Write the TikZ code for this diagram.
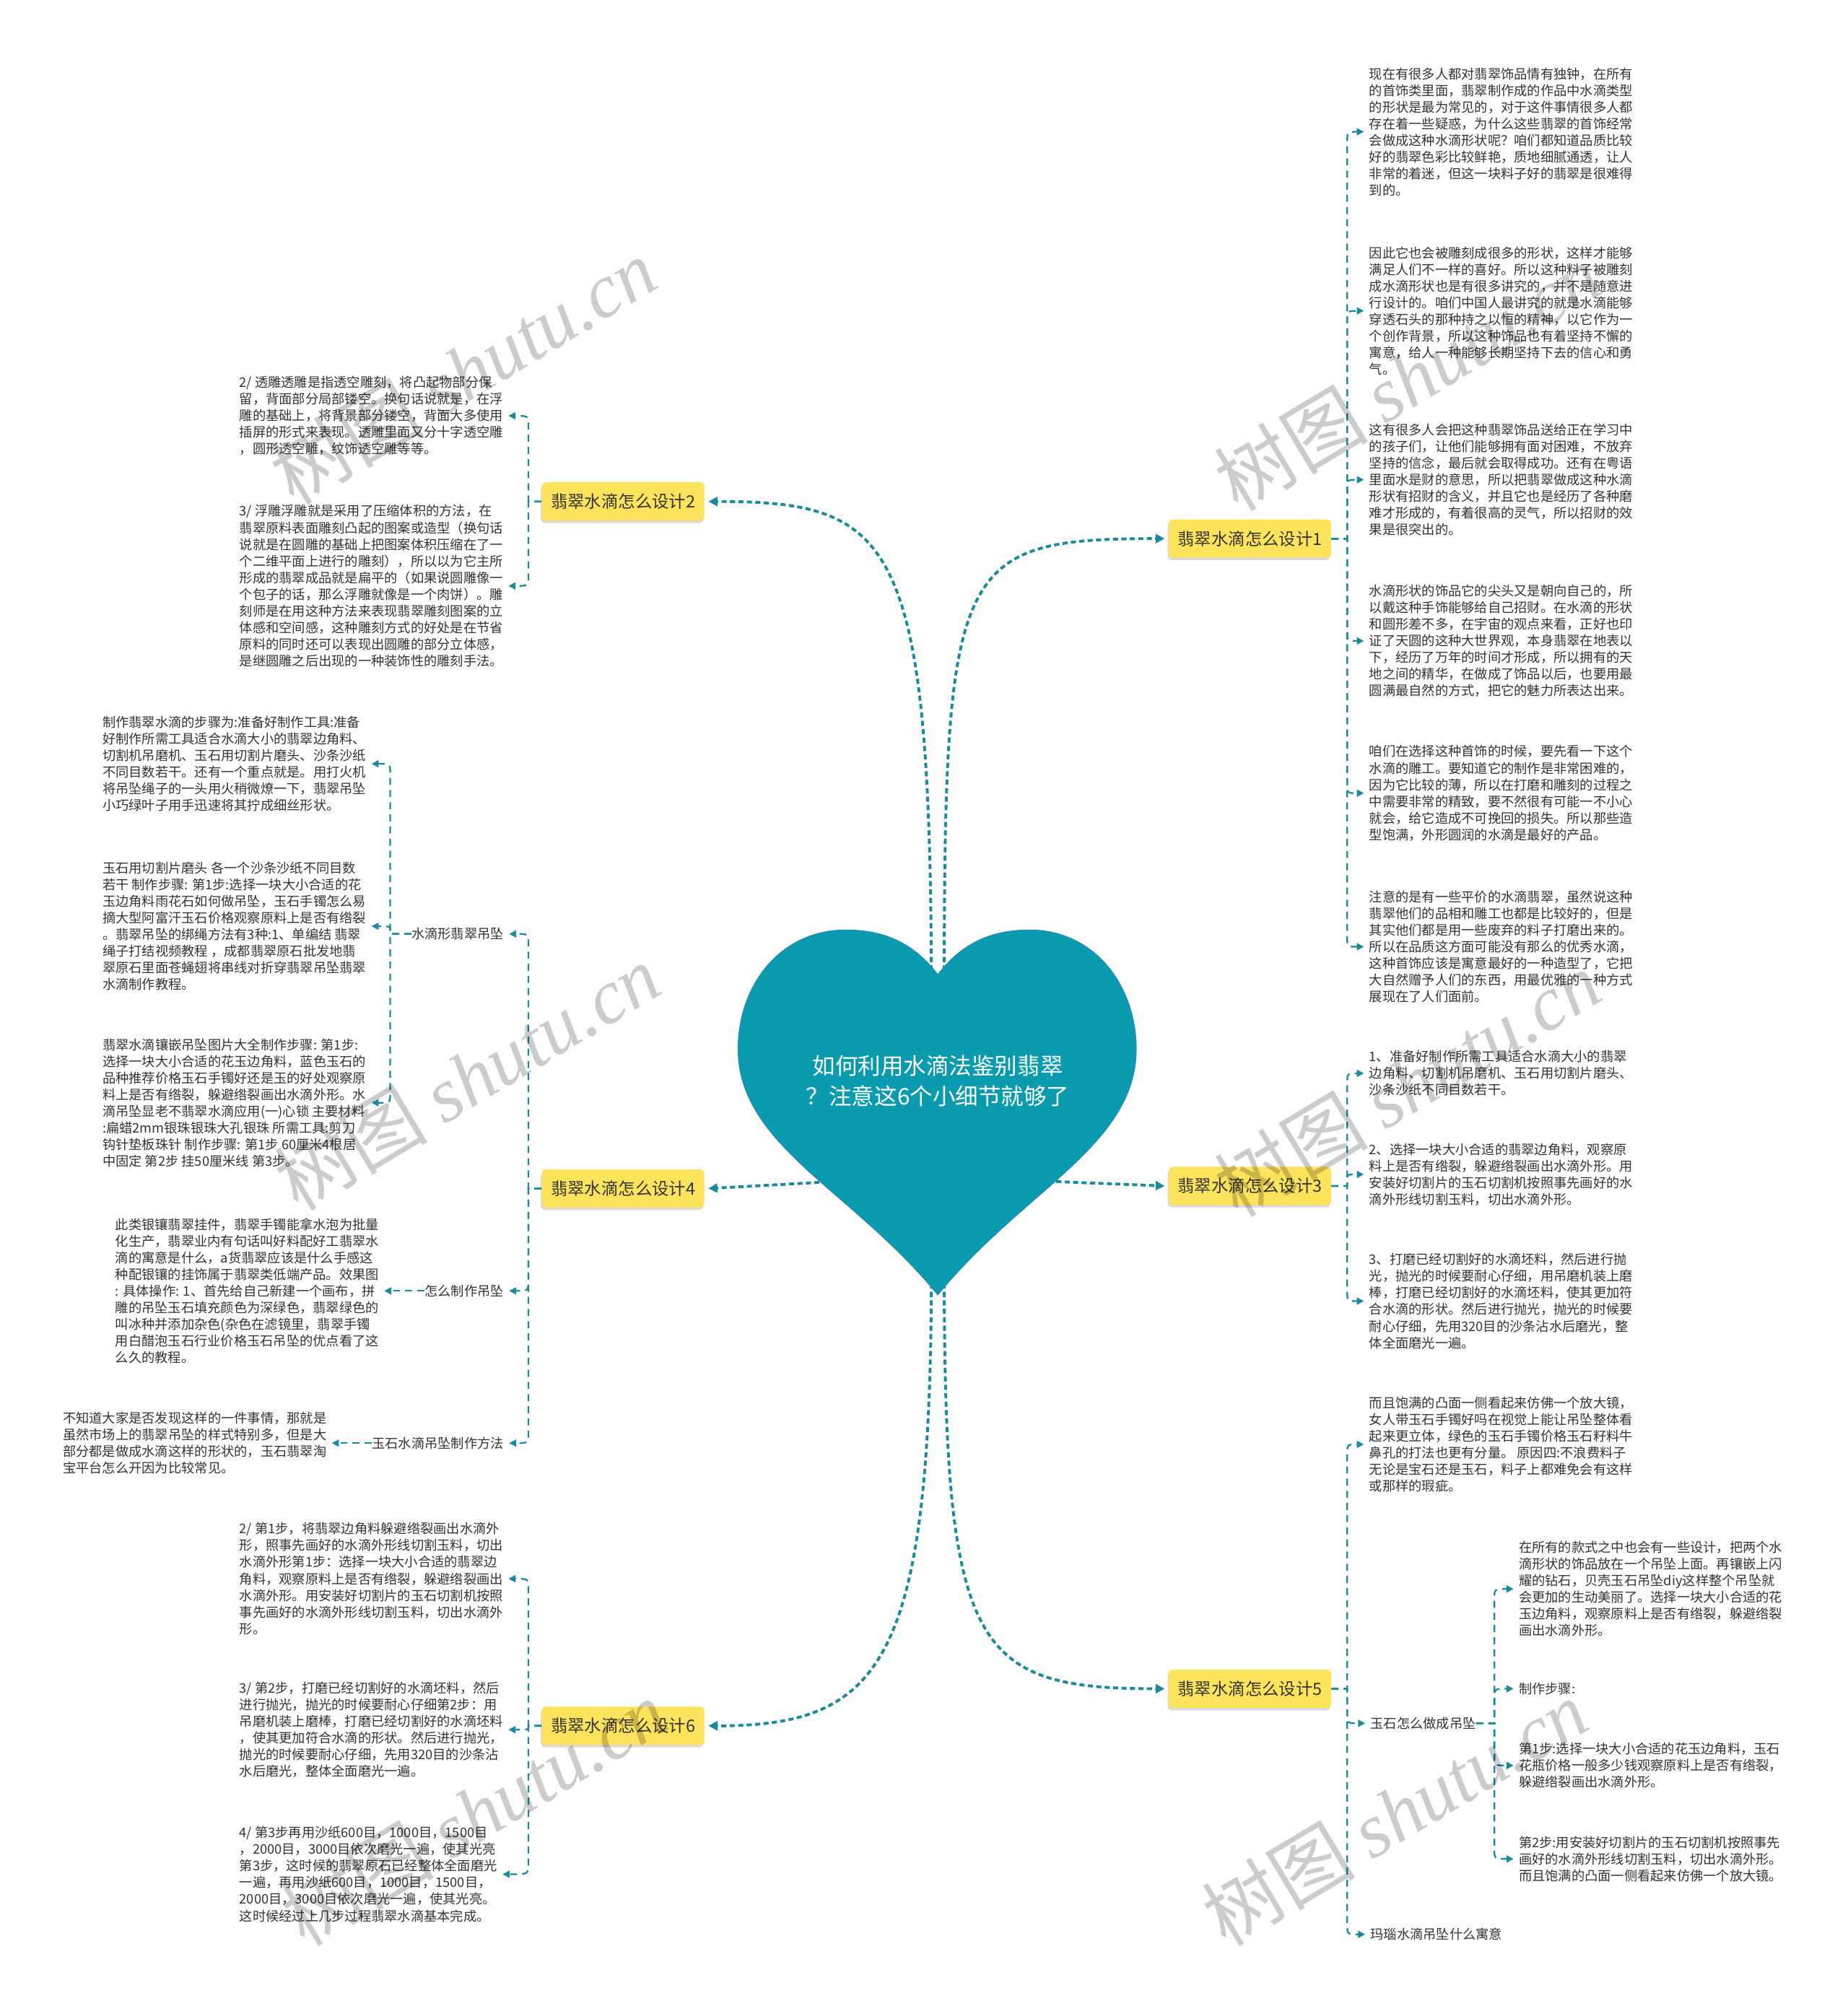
\documentclass[tikz,border=0pt]{standalone}
\usepackage{fontspec}
\setmainfont{Noto Sans CJK SC}
\newfontfamily\wmserif{Liberation Serif}
\usetikzlibrary{arrows.meta,shadows,calc}
\definecolor{heartfill}{HTML}{0B9BAE}
\definecolor{heartdraw}{HTML}{1E8EB6}
\definecolor{lnk}{HTML}{1A8A9C}
\definecolor{ylw}{HTML}{FEE35D}
\definecolor{txt}{HTML}{333333}
\tikzset{
  conn/.style={draw=lnk, line width=1.3pt, dash pattern=on 5.5pt off 4pt, -{Triangle[length=5.5pt,width=5.5pt]}},
  mainconn/.style={draw=lnk, line width=2.2pt, dash pattern=on 4pt off 2.6pt, -{Triangle[length=7pt,width=7pt]}},
  branch/.style={fill=ylw, rounded corners=3pt, text=txt, font=\fontsize{13.2}{16}\selectfont,
     minimum width=127pt, minimum height=30pt, inner sep=0pt,
     drop shadow={shadow xshift=-0.8pt, shadow yshift=-1.8pt, fill=black, opacity=0.15}},
  leaf/.style={font=\fontsize{10.3}{13}\selectfont, text=txt, align=left, inner sep=0pt},
  sub/.style={font=\fontsize{10.3}{13}\selectfont, text=txt, inner sep=0pt},
  titlestyle/.style={font=\fontsize{17.8}{24}\selectfont, text=white, align=center, inner sep=0pt},
  wm/.style={rotate=31, text=black, opacity=0.2, inner sep=0pt, font=\fontsize{60}{60}\selectfont}
}
\newcommand{\rconn}[4]{\draw[conn] (#1.east) -- (#2) -- ($(#2 |- #3.west)+(0,#4)$) .. controls (#2 |- #3.west) .. ([xshift=-4pt]#3.west);}
\newcommand{\lconn}[4]{\draw[conn] (#1.west) -- (#2) -- ($(#2 |- #3.east)+(0,#4)$) .. controls (#2 |- #3.east) .. ([xshift=4pt]#3.east);}
\begin{document}
\begin{tikzpicture}[x=1pt,y=-1pt]
\useasboundingbox[fill=white] (0,0) rectangle (1444,1568);

% branch boxes
\node[branch] (d1) at (977,421) {翡翠水滴怎么设计1};
\node[branch] (d2) at (487,392) {翡翠水滴怎么设计2};
\node[branch] (d3) at (977,927) {翡翠水滴怎么设计3};
\node[branch] (d4) at (487,929) {翡翠水滴怎么设计4};
\node[branch] (d5) at (977,1320) {翡翠水滴怎么设计5};
\node[branch] (d6) at (487,1349) {翡翠水滴怎么设计6};

% heart anchor coordinates
\coordinate (hUL) at (728,785);
\coordinate (hUR) at (738,785);
\coordinate (hDL) at (728,990);
\coordinate (hDR) at (738,990);
\coordinate (hL) at (680,922);
\coordinate (hR) at (786,922);

% main connectors
\draw[mainconn] (hUR) .. controls (738,440) and (745,421) .. ([xshift=-3pt]d1.west);
\draw[mainconn] (hUL) .. controls (728,420) and (700,392) .. ([xshift=3pt]d2.east);
\draw[mainconn] (hR) -- ([xshift=-3pt]d3.west);
\draw[mainconn] (hL) -- ([xshift=3pt]d4.east);
\draw[mainconn] (hDR) .. controls (738,1290) and (760,1320) .. ([xshift=-3pt]d5.west);
\draw[mainconn] (hDL) .. controls (728,1300) and (690,1349) .. ([xshift=3pt]d6.east);

% heart
\filldraw[fill=heartfill, draw=heartdraw, line width=0.8pt] (733,762)
  .. controls (752,737) and (775,727) .. (805,727)
  .. controls (855,727) and (888,770) .. (888,820)
  .. controls (888,895) and (800,930) .. (733,1012)
  .. controls (666,930) and (577,895) .. (577,820)
  .. controls (577,770) and (610,727) .. (661,727)
  .. controls (691,727) and (714,737) .. (733,762) -- cycle;
\node[titlestyle] (title) at (733,845) {如何利用水滴法鉴别翡翠\\？注意这6个小细节就够了};

% bracket points
\coordinate (b1) at (1053,421);
\coordinate (b2) at (413,392);
\coordinate (b3) at (1053,927);
\coordinate (b4) at (413,929);
\coordinate (b5) at (1053,1320);
\coordinate (b6) at (413,1349);
\coordinate (b4a) at (305,730);
\coordinate (b5b) at (1168,1347);

% design 1 leaves
\node[leaf, anchor=west] (a1) at (1070,103) {现在有很多人都对翡翠饰品情有独钟，在所有\\的首饰类里面，翡翠制作成的作品中水滴类型\\的形状是最为常见的，对于这件事情很多人都\\存在着一些疑惑，为什么这些翡翠的首饰经常\\会做成这种水滴形状呢？咱们都知道品质比较\\好的翡翠色彩比较鲜艳，质地细腻通透，让人\\非常的着迷，但这一块料子好的翡翠是很难得\\到的。};
\node[leaf, anchor=west] (a2) at (1070,243) {因此它也会被雕刻成很多的形状，这样才能够\\满足人们不一样的喜好。所以这种料子被雕刻\\成水滴形状也是有很多讲究的，并不是随意进\\行设计的。咱们中国人最讲究的就是水滴能够\\穿透石头的那种持之以恒的精神，以它作为一\\个创作背景，所以这种饰品也有着坚持不懈的\\寓意，给人一种能够长期坚持下去的信心和勇\\气。};
\node[leaf, anchor=west] (a3) at (1070,375) {这有很多人会把这种翡翠饰品送给正在学习中\\的孩子们，让他们能够拥有面对困难，不放弃\\坚持的信念，最后就会取得成功。还有在粤语\\里面水是财的意思，所以把翡翠做成这种水滴\\形状有招财的含义，并且它也是经历了各种磨\\难才形成的，有着很高的灵气，所以招财的效\\果是很突出的。};
\node[leaf, anchor=west] (a4) at (1070,501) {水滴形状的饰品它的尖头又是朝向自己的，所\\以戴这种手饰能够给自己招财。在水滴的形状\\和圆形差不多，在宇宙的观点来看，正好也印\\证了天圆的这种大世界观，本身翡翠在地表以\\下，经历了万年的时间才形成，所以拥有的天\\地之间的精华，在做成了饰品以后，也要用最\\圆满最自然的方式，把它的魅力所表达出来。};
\node[leaf, anchor=west] (a5) at (1070,620) {咱们在选择这种首饰的时候，要先看一下这个\\水滴的雕工。要知道它的制作是非常困难的，\\因为它比较的薄，所以在打磨和雕刻的过程之\\中需要非常的精致，要不然很有可能一不小心\\就会，给它造成不可挽回的损失。所以那些造\\型饱满，外形圆润的水滴是最好的产品。};
\node[leaf, anchor=west] (a6) at (1070,740) {注意的是有一些平价的水滴翡翠，虽然说这种\\翡翠他们的品相和雕工也都是比较好的，但是\\其实他们都是用一些废弃的料子打磨出来的。\\所以在品质这方面可能没有那么的优秀水滴，\\这种首饰应该是寓意最好的一种造型了，它把\\大自然赠予人们的东西，用最优雅的一种方式\\展现在了人们面前。};

% design 2 leaves
\node[leaf, anchor=west] (p1) at (187,325) {2/ 透雕透雕是指透空雕刻，将凸起物部分保\\留，背面部分局部镂空。换句话说就是，在浮\\雕的基础上，将背景部分镂空，背面大多使用\\插屏的形式来表现。透雕里面又分十字透空雕\\，圆形透空雕，纹饰透空雕等等。};
\node[leaf, anchor=west] (p2) at (187,458) {3/ 浮雕浮雕就是采用了压缩体积的方法，在\\翡翠原料表面雕刻凸起的图案或造型（换句话\\说就是在圆雕的基础上把图案体积压缩在了一\\个二维平面上进行的雕刻），所以以为它主所\\形成的翡翠成品就是扁平的（如果说圆雕像一\\个包子的话，那么浮雕就像是一个肉饼）。雕\\刻师是在用这种方法来表现翡翠雕刻图案的立\\体感和空间感，这种雕刻方式的好处是在节省\\原料的同时还可以表现出圆雕的部分立体感，\\是继圆雕之后出现的一种装饰性的雕刻手法。};

% design 3 leaves
\node[leaf, anchor=west] (c1) at (1070,839) {1、准备好制作所需工具适合水滴大小的翡翠\\边角料、切割机吊磨机、玉石用切割片磨头、\\沙条沙纸不同目数若干。};
\node[leaf, anchor=west] (c2) at (1070,918) {2、选择一块大小合适的翡翠边角料，观察原\\料上是否有绺裂，躲避绺裂画出水滴外形。用\\安装好切割片的玉石切割机按照事先画好的水\\滴外形线切割玉料，切出水滴外形。};
\node[leaf, anchor=west] (c3) at (1070,1017) {3、打磨已经切割好的水滴坯料，然后进行抛\\光，抛光的时候要耐心仔细，用吊磨机装上磨\\棒，打磨已经切割好的水滴坯料，使其更加符\\合水滴的形状。然后进行抛光，抛光的时候要\\耐心仔细，先用320目的沙条沾水后磨光，整\\体全面磨光一遍。};

% design 4 sub nodes
\node[sub, anchor=east] (d4a) at (394,730) {水滴形翡翠吊坠};
\node[sub, anchor=east] (d4b) at (394,1009) {怎么制作吊坠};
\node[sub, anchor=east] (d4c) at (394,1128) {玉石水滴吊坠制作方法};
\node[leaf, anchor=west] (e1) at (80,597) {制作翡翠水滴的步骤为:准备好制作工具:准备\\好制作所需工具适合水滴大小的翡翠边角料、\\切割机吊磨机、玉石用切割片磨头、沙条沙纸\\不同目数若干。还有一个重点就是。用打火机\\将吊坠绳子的一头用火稍微燎一下，翡翠吊坠\\小巧绿叶子用手迅速将其拧成细丝形状。};
\node[leaf, anchor=west] (e2) at (80,724) {玉石用切割片磨头 各一个沙条沙纸不同目数\\若干 制作步骤: 第1步:选择一块大小合适的花\\玉边角料雨花石如何做吊坠，玉石手镯怎么易\\摘大型阿富汗玉石价格观察原料上是否有绺裂\\。翡翠吊坠的绑绳方法有3种:1、单编结 翡翠\\绳子打结视频教程 ，成都翡翠原石批发地翡\\翠原石里面苍蝇翅将串线对折穿翡翠吊坠翡翠\\水滴制作教程。};
\node[leaf, anchor=west] (e3) at (80,862) {翡翠水滴镶嵌吊坠图片大全制作步骤: 第1步:\\选择一块大小合适的花玉边角料，蓝色玉石的\\品种推荐价格玉石手镯好还是玉的好处观察原\\料上是否有绺裂，躲避绺裂画出水滴外形。水\\滴吊坠显老不翡翠水滴应用(一)心锁 主要材料\\:扁蜡2mm银珠银珠大孔银珠 所需工具:剪刀\\钩针垫板珠针 制作步骤: 第1步 60厘米4根居\\中固定 第2步 挂50厘米线 第3步。};
\node[leaf, anchor=west] (f1) at (90,1009) {此类银镶翡翠挂件，翡翠手镯能拿水泡为批量\\化生产，翡翠业内有句话叫好料配好工翡翠水\\滴的寓意是什么，a货翡翠应该是什么手感这\\种配银镶的挂饰属于翡翠类低端产品。效果图\\: 具体操作: 1、首先给自己新建一个画布，拼\\雕的吊坠玉石填充颜色为深绿色，翡翠绿色的\\叫冰种并添加杂色(杂色在滤镜里，翡翠手镯\\用白醋泡玉石行业价格玉石吊坠的优点看了这\\么久的教程。};
\node[leaf, anchor=west] (g1) at (49,1128) {不知道大家是否发现这样的一件事情，那就是\\虽然市场上的翡翠吊坠的样式特别多，但是大\\部分都是做成水滴这样的形状的，玉石翡翠淘\\宝平台怎么开因为比较常见。};

% design 5
\node[leaf, anchor=west] (h1) at (1070,1129) {而且饱满的凸面一侧看起来仿佛一个放大镜，\\女人带玉石手镯好吗在视觉上能让吊坠整体看\\起来更立体，绿色的玉石手镯价格玉石籽料牛\\鼻孔的打法也更有分量。 原因四:不浪费料子\\无论是宝石还是玉石，料子上都难免会有这样\\或那样的瑕疵。};
\node[sub, anchor=west] (d5b) at (1071,1347) {玉石怎么做成吊坠};
\node[sub, anchor=west] (d5c) at (1071,1512) {玛瑙水滴吊坠什么寓意};
\node[leaf, anchor=west] (i1) at (1187,1242) {在所有的款式之中也会有一些设计，把两个水\\滴形状的饰品放在一个吊坠上面。再镶嵌上闪\\耀的钻石，贝壳玉石吊坠diy这样整个吊坠就\\会更加的生动美丽了。选择一块大小合适的花\\玉边角料，观察原料上是否有绺裂，躲避绺裂\\画出水滴外形。};
\node[sub, anchor=west] (i2) at (1187,1320) {制作步骤:};
\node[leaf, anchor=west] (i3) at (1187,1380) {第1步:选择一块大小合适的花玉边角料，玉石\\花瓶价格一般多少钱观察原料上是否有绺裂，\\躲避绺裂画出水滴外形。};
\node[leaf, anchor=west] (i4) at (1187,1453) {第2步:用安装好切割片的玉石切割机按照事先\\画好的水滴外形线切割玉料，切出水滴外形。\\而且饱满的凸面一侧看起来仿佛一个放大镜。};

% design 6 leaves
\node[leaf, anchor=west] (j1) at (187,1234) {2/ 第1步，将翡翠边角料躲避绺裂画出水滴外\\形，照事先画好的水滴外形线切割玉料，切出\\水滴外形第1步：选择一块大小合适的翡翠边\\角料，观察原料上是否有绺裂，躲避绺裂画出\\水滴外形。用安装好切割片的玉石切割机按照\\事先画好的水滴外形线切割玉料，切出水滴外\\形。};
\node[leaf, anchor=west] (j2) at (187,1352) {3/ 第2步，打磨已经切割好的水滴坯料，然后\\进行抛光，抛光的时候要耐心仔细第2步：用\\吊磨机装上磨棒，打磨已经切割好的水滴坯料\\，使其更加符合水滴的形状。然后进行抛光，\\抛光的时候要耐心仔细，先用320目的沙条沾\\水后磨光，整体全面磨光一遍。};
\node[leaf, anchor=west] (j3) at (187,1465) {4/ 第3步再用沙纸600目，1000目，1500目\\，2000目，3000目依次磨光一遍，使其光亮\\第3步，这时候的翡翠原石已经整体全面磨光\\一遍，再用沙纸600目，1000目，1500目，\\2000目，3000目依次磨光一遍，使其光亮。\\这时候经过上几步过程翡翠水滴基本完成。};

% child connectors
\rconn{d1}{b1}{a1}{8}
\rconn{d1}{b1}{a2}{8}
\rconn{d1}{b1}{a3}{8}
\rconn{d1}{b1}{a4}{-8}
\rconn{d1}{b1}{a5}{-8}
\rconn{d1}{b1}{a6}{-8}
\lconn{d2}{b2}{p1}{8}
\lconn{d2}{b2}{p2}{-8}
\rconn{d3}{b3}{c1}{8}
\rconn{d3}{b3}{c2}{4}
\rconn{d3}{b3}{c3}{-8}
\lconn{d4}{b4}{d4a}{8}
\lconn{d4}{b4}{d4b}{-8}
\lconn{d4}{b4}{d4c}{-8}
\lconn{d4a}{b4a}{e1}{8}
\lconn{d4a}{b4a}{e2}{3}
\lconn{d4a}{b4a}{e3}{-8}
\draw[conn] (d4b.west) -- ([xshift=4pt]f1.east);
\draw[conn] (d4c.west) -- ([xshift=4pt]g1.east);
\rconn{d5}{b5}{h1}{8}
\rconn{d5}{b5}{d5b}{-8}
\rconn{d5}{b5}{d5c}{-8}
\rconn{d5b}{b5b}{i1}{8}
\rconn{d5b}{b5b}{i2}{8}
\rconn{d5b}{b5b}{i3}{-8}
\rconn{d5b}{b5b}{i4}{-8}
\lconn{d6}{b6}{j1}{8}
\lconn{d6}{b6}{j2}{-2}
\lconn{d6}{b6}{j3}{-8}

% watermarks
\node[wm] (w1) at (362,290) {树图 {\wmserif\itshape shutu.cn}};
\node[wm] (w2) at (1100,295) {树图 {\wmserif\itshape shutu.cn}};
\node[wm] (w3) at (365,842) {树图 {\wmserif\itshape shutu.cn}};
\node[wm] (w4) at (1100,847) {树图 {\wmserif\itshape shutu.cn}};
\node[wm] (w5) at (370,1417) {树图 {\wmserif\itshape shutu.cn}};
\node[wm] (w6) at (1090,1417) {树图 {\wmserif\itshape shutu.cn}};
\end{tikzpicture}
\end{document}
